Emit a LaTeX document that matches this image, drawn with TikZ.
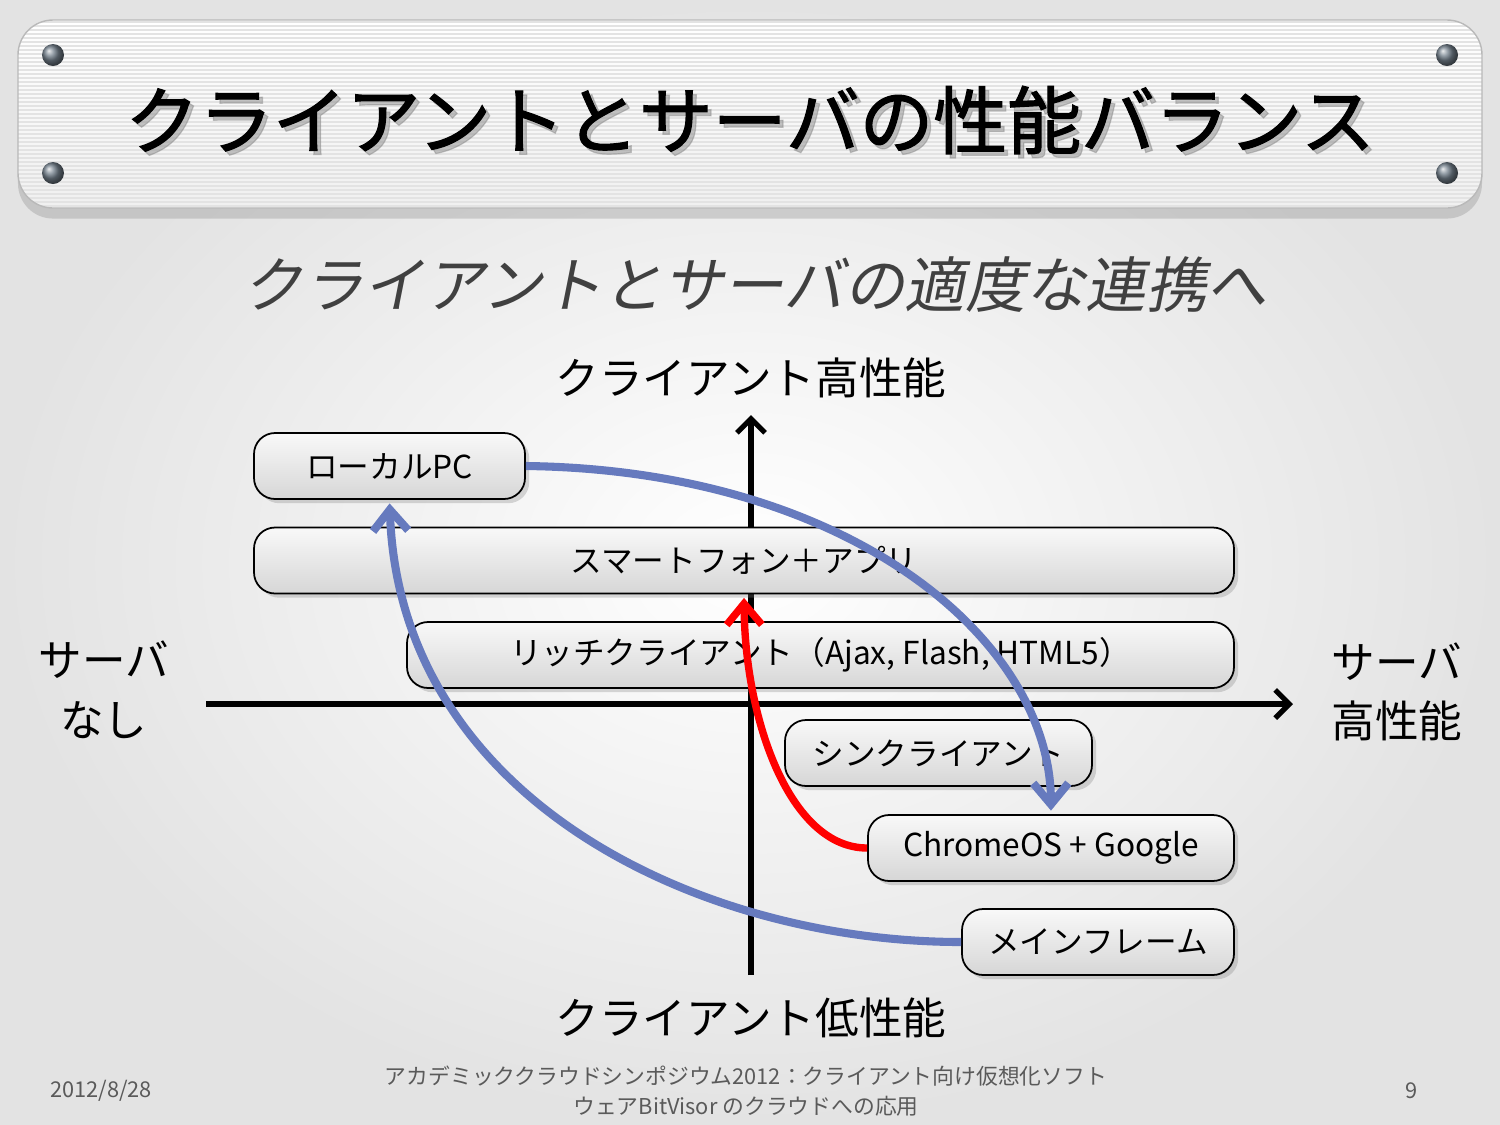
\documentclass[tikz,border=0pt]{standalone}
\usepackage{fontspec}
\setmainfont{Noto Sans CJK JP}
\newfontfamily\slantfont[FakeSlant=0.2]{Noto Sans CJK JP}
\newfontfamily\titlefont[FakeBold=1.6]{Noto Sans CJK JP}
\usetikzlibrary{arrows.meta, shadows}

\definecolor{curveblue}{RGB}{102,122,190}
\definecolor{curvered}{RGB}{255,0,0}
\definecolor{subgray}{RGB}{64,64,64}
\definecolor{footgray}{RGB}{90,90,90}
\definecolor{rivet}{RGB}{115,128,140}

\tikzstyle{titleplate} = [
    rounded corners=0.35cm,
    top color=white,
    bottom color=gray!12,
    drop shadow={opacity=0.3, shadow xshift=0pt, shadow yshift=-3pt}
]
\tikzstyle{stripe} = [gray!22, line width=0.35pt]
\tikzstyle{titletext} = [font=\fontsize{21}{25}\selectfont\titlefont]
\tikzstyle{itembox} = [
    rectangle,
    rounded corners=6pt,
    minimum height=0.66cm,
    inner sep=0pt,
    draw=black,
    line width=0.5pt,
    top color=gray!5,
    bottom color=gray!32,
    font=\fontsize{9}{11}\selectfont,
    drop shadow={opacity=0.3, shadow xshift=1.2pt, shadow yshift=-1.2pt}
]
\tikzstyle{axislabel} = [font=\fontsize{12.4}{17}\selectfont, align=center]
\tikzstyle{axis} = [line width=1.5pt, -{Straight Barb[length=4pt, width=8pt]}]
\tikzstyle{curve} = [line width=2.3pt, -{Straight Barb[length=6pt, width=10pt]}]
\tikzstyle{footer} = [text=footgray, font=\fontsize{6.2}{8.5}\selectfont, align=center]

\begin{document}
\begin{tikzpicture}

% background
\useasboundingbox (0,0) rectangle (15,-11.25);
\shade[inner color=white, outer color=gray!22] (0,0) rectangle (15,-11.25);

% title plate
\path[titleplate] (0.18,-0.2) rectangle (14.82,-2.08);
\begin{scope}
\clip[rounded corners=0.35cm] (0.18,-0.2) rectangle (14.82,-2.08);
\foreach \y in {0.22,0.26,...,2.08}
    \draw[stripe] (0.18,-\y) -- (14.82,-\y);
\end{scope}
\draw[rounded corners=0.35cm, gray!55, line width=0.4pt] (0.18,-0.2) rectangle (14.82,-2.08);
\foreach \x/\y in {0.53/-0.55, 0.53/-1.73, 14.47/-0.55, 14.47/-1.73}
    \shade[ball color=rivet] (\x,\y) circle (0.11);

\node (titleshadow) [titletext, text=black!45, opacity=0.5] at (7.54,-1.24) {クライアントとサーバの性能バランス};
\node (title) [titletext] at (7.5,-1.2) {クライアントとサーバの性能バランス};

\node (subtitle) [text=subgray, font=\fontsize{17.2}{20}\selectfont\slantfont] at (7.55,-2.85) {クライアントとサーバの適度な連携へ};

% axes
\coordinate (ybot) at (7.51,-9.75);
\coordinate (ytop) at (7.51,-4.15);
\coordinate (xleft) at (2.06,-7.04);
\coordinate (xright) at (12.93,-7.04);
\draw[axis] (ybot) -- (ytop);
\draw[axis] (xleft) -- (xright);

\node (clienthigh) [axislabel] at (7.51,-3.78) {クライアント高性能};
\node (clientlow) [axislabel] at (7.51,-10.18) {クライアント低性能};
\node (servernone) [axislabel] at (1.04,-6.9) {サーバ\\なし};
\node (serverhigh) [axislabel] at (13.97,-6.92) {サーバ\\高性能};

% boxes
\node (localpc) [itembox, minimum width=2.71cm] at (3.895,-4.66) {ローカルPC};
\node (smartphone) [itembox, minimum width=9.8cm] at (7.44,-5.605) {スマートフォン＋アプリ};
\node (richclient) [itembox, minimum width=8.27cm] at (8.205,-6.55) {リッチクライアント（Ajax, Flash, HTML5）};
\node (thinclient) [itembox, minimum width=3.07cm] at (9.385,-7.53) {シンクライアント};
\node (chromeos) [itembox, minimum width=3.66cm] at (10.51,-8.48) {ChromeOS + Google};
\node (mainframe) [itembox, minimum width=2.72cm] at (10.98,-9.42) {メインフレーム};

% transitions
\draw[curve, curveblue, shorten >=1pt] (localpc.east) .. controls (8.5,-4.7) and (10.5,-6.4) .. (chromeos.north);
\draw[curve, curveblue, shorten >=1pt] (mainframe.west) .. controls (7.0,-9.42) and (4.0,-8.0) .. (localpc.south);
\draw[curve, curvered, line width=2.1pt, shorten >=1pt] (chromeos.west) .. controls (7.9,-8.48) and (7.45,-7.2) .. (smartphone.south);

% footer
\node (date) [footer] at (1.01,-10.91) {2012/8/28};
\node (event) [footer] at (7.46,-10.91) {アカデミッククラウドシンポジウム2012：クライアント向け仮想化ソフト\\ウェアBitVisor のクラウドへの応用};
\node (pagenum) [footer] at (14.12,-10.91) {9};

\end{tikzpicture}
\end{document}
